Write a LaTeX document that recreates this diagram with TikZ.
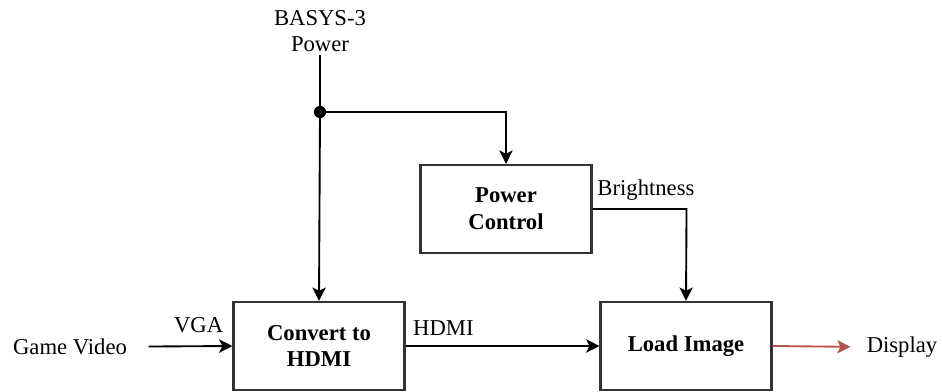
\documentclass[tikz,border=0pt]{standalone}
\usepackage{fontspec}
\setmainfont{Liberation Serif}
\usepackage{xcolor}
\definecolor{bdInk}{RGB}{0,0,0}
\definecolor{bdFrame}{RGB}{51,51,51}
\definecolor{bdRed}{RGB}{184,84,80}
\usepackage{tikz}
\usetikzlibrary{positioning,arrows.meta}

\begin{document}
\begin{tikzpicture}[
  block/.style={draw=bdFrame,line width=1.8pt,minimum width=128pt,minimum height=66pt,
    align=center,font=\fontsize{17}{20}\selectfont\bfseries,text=bdInk},
  lbl/.style={font=\fontsize{17}{20}\selectfont,text=bdInk,inner sep=2pt},
  wire/.style={bdInk,line width=1.4pt},
  sig/.style={-{Stealth[length=10pt,width=10pt,inset=2.5pt]},bdInk,line width=1.4pt},
  redsig/.style={-{Stealth[length=10pt,width=10pt,inset=2.5pt]},bdRed,line width=1.4pt},
  x=0.75pt,y=-0.75pt]

  \useasboundingbox (0,0) rectangle (942,392);

  % blocks
  \node[block] (conv) at (319,346) {Convert to\\HDMI};
  \node[block] (pc)   at (506,209) {Power\\Control};
  \node[block] (load) at (686,346) {Load Image};

  % outside signals
  \node[lbl,align=center] (pwr) at (320,31) {BASYS-3\\Power};
  \node[lbl] (gv)   at (70,347)  {Game Video};
  \node[lbl] (disp) at (902,347) {Display};
  \coordinate (jn) at (320,112);

  % power distribution
  \draw[wire] (pwr) -- (jn);
  \fill[bdInk] (jn) circle (4.6pt);
  \draw[sig] (jn) -- (conv.north);
  \draw[sig] (jn) -| (pc.north);
  \draw[sig] (pc.east) -- node[lbl,pos=0,above right,xshift=1pt,yshift=4pt]{Brightness} ++(94,0) -- (load.north);

  % video path
  \draw[sig,shorten <=14pt] (gv) -- node[lbl,pos=0.67,above=7pt]{VGA} (conv.west);
  \draw[sig] (conv.east) -- node[lbl,pos=0,above right,xshift=3pt,yshift=5pt]{HDMI} (load.west);
  \draw[redsig,shorten >=10pt] (load.east) -- (disp.west);
\end{tikzpicture}
\end{document}
